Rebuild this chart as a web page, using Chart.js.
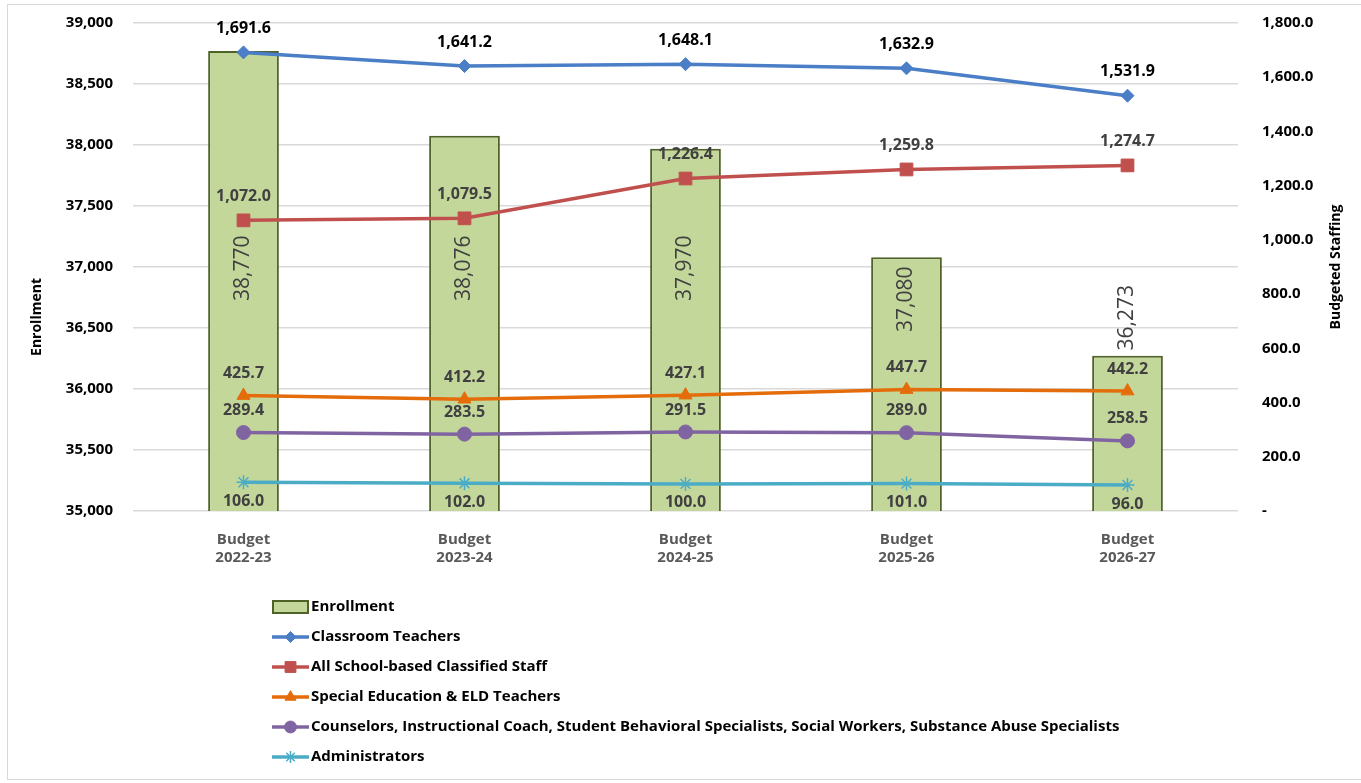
<!DOCTYPE html>
<html>
<head>
<meta charset="utf-8">
<script src="https://cdn.jsdelivr.net/npm/chart.js@4"></script>
<style>
  html, body { margin: 0; padding: 0; background: #fff; }
  #wrap { position: absolute; left: 0; top: 0; width: 1361px; height: 783px; }
  #frame { position: absolute; left: 7px; top: 4px; width: 1360px; height: 776px; border: 1px solid #d9d9d9; box-sizing: border-box; pointer-events: none; }
</style>
</head>
<body>
<div id="wrap"><canvas id="myChart" width="1361" height="783"></canvas></div>
<div id="frame"></div>
<script>
// data
const years = [['Budget', '2022-23'], ['Budget', '2023-24'], ['Budget', '2024-25'], ['Budget', '2025-26'], ['Budget', '2026-27']];
const enrollment = [38770, 38076, 37970, 37080, 36273];
const classroomTeachers = [1691.6, 1641.2, 1648.1, 1632.9, 1531.9];
const classifiedStaff = [1072.0, 1079.5, 1226.4, 1259.8, 1274.7];
const spedEldTeachers = [425.7, 412.2, 427.1, 447.7, 442.2];
const counselors = [289.4, 283.5, 291.5, 289.0, 258.5];
const administrators = [106.0, 102.0, 100.0, 101.0, 96.0];

const FONT = '"Open Sans", "Liberation Sans", sans-serif';
Chart.defaults.font.family = FONT;

function lineSet(label, data, color, style, radius, labelDy, labelColor) {
  return {
    type: 'line', label: label, data: data, yAxisID: 'y1', order: 0,
    borderColor: color, backgroundColor: color, borderWidth: 3.5,
    pointStyle: style, pointRadius: radius, pointBorderWidth: style === 'star' ? 1.5 : 1,
    pointBackgroundColor: color, pointBorderColor: color,
    tension: 0, labelDy: labelDy, labelColor: labelColor
  };
}

const fmt1 = v => v.toLocaleString('en-US', { minimumFractionDigits: 1, maximumFractionDigits: 1 });

const labelsPlugin = {
  id: 'labels',
  afterDatasetsDraw(chart) {
    const ctx = chart.ctx;
    const y = chart.scales.y;
    ctx.save();
    chart.data.datasets.forEach((ds, i) => {
      const meta = chart.getDatasetMeta(i);
      meta.data.forEach((el, j) => {
        const v = ds.data[j];
        if (ds.type === 'bar') {
          const top = el.y;
          let cy;
          if (top > y.getPixelForValue(36500)) cy = top - 38;
          else cy = Math.max(y.getPixelForValue(36990), top + 42);
          ctx.save();
          ctx.translate(el.x, cy);
          ctx.rotate(-Math.PI / 2);
          ctx.font = '21px ' + FONT;
          ctx.fillStyle = '#404040';
          ctx.textAlign = 'center';
          ctx.textBaseline = 'middle';
          ctx.fillText(v.toLocaleString('en-US'), 0, 0);
          ctx.restore();
        } else {
          ctx.font = 'bold 16px ' + FONT;
          ctx.fillStyle = ds.labelColor;
          ctx.textAlign = 'center';
          ctx.textBaseline = 'middle';
          ctx.fillText(fmt1(v), el.x, el.y + ds.labelDy);
        }
      });
    });
    ctx.restore();
  },
  afterDraw(chart) {
    const ctx = chart.ctx;
    ctx.save();
    // axis titles, both read bottom to top
    ctx.font = 'bold 14px ' + FONT;
    ctx.fillStyle = '#000';
    ctx.textAlign = 'center';
    ctx.textBaseline = 'middle';
    ctx.save(); ctx.translate(37, 317); ctx.rotate(-Math.PI / 2); ctx.fillText('Enrollment', 0, 0); ctx.restore();
    ctx.save(); ctx.translate(1336, 267); ctx.rotate(-Math.PI / 2); ctx.fillText('Budgeted Staffing', 0, 0); ctx.restore();

    // vertical legend under the plot
    const lx = 272, tx = 311;
    let ly = 607;
    chart.data.datasets.forEach(ds => {
      if (ds.type === 'bar') {
        ctx.fillStyle = ds.backgroundColor;
        ctx.strokeStyle = ds.borderColor;
        ctx.lineWidth = 2;
        ctx.fillRect(lx + 1, ly - 6, 35, 12);
        ctx.strokeRect(lx + 1, ly - 6, 35, 12);
      } else {
        ctx.strokeStyle = ds.borderColor;
        ctx.lineWidth = 3.5;
        ctx.beginPath(); ctx.moveTo(lx, ly); ctx.lineTo(lx + 37, ly); ctx.stroke();
        ctx.fillStyle = ds.backgroundColor;
        ctx.lineWidth = ds.pointBorderWidth;
        Chart.helpers.drawPoint(ctx, { pointStyle: ds.pointStyle, radius: ds.pointRadius * 0.85, borderWidth: ds.pointBorderWidth }, lx + 18.5, ly);
      }
      ctx.font = 'bold 15px ' + FONT;
      ctx.fillStyle = '#000';
      ctx.textAlign = 'left';
      ctx.textBaseline = 'middle';
      ctx.fillText(ds.label, tx, ly);
      ly += 30;
    });
    ctx.restore();
  }
};

const ctx = document.getElementById('myChart');

new Chart(ctx, {
  data: {
    labels: years,
    datasets: [
      {
        type: 'bar', label: 'Enrollment', data: enrollment, yAxisID: 'y', order: 1,
        backgroundColor: '#C4D79B', borderColor: '#4F6228', borderWidth: 2,
        barPercentage: 0.32, categoryPercentage: 1
      },
      lineSet('Classroom Teachers', classroomTeachers, '#4A7EC6', 'rectRot', 6.5, -24, '#000'),
      lineSet('All School-based Classified Staff', classifiedStaff, '#C0504D', 'rect', 9, -24, '#404040'),
      lineSet('Special Education & ELD Teachers', spedEldTeachers, '#E46C0A', 'triangle', 7.5, -22, '#404040'),
      lineSet('Counselors, Instructional Coach, Student Behavioral Specialists, Social Workers, Substance Abuse Specialists', counselors, '#8064A2', 'circle', 7, -22, '#404040'),
      lineSet('Administrators', administrators, '#4BACC6', 'star', 7, 19, '#404040')
    ]
  },
  options: {
    responsive: false,
    animation: false,
    devicePixelRatio: 1,
    layout: { padding: { top: 23, left: 0, right: 0, bottom: 0 } },
    plugins: { legend: { display: false }, tooltip: { enabled: false } },
    scales: {
      x: {
        grid: { display: false },
        border: { display: false },
        ticks: { color: '#595959', font: { size: 15, weight: 'bold' }, padding: 12, maxRotation: 0 },
        afterFit: s => { s.height = 272; s.paddingLeft = 0; s.paddingRight = 0; }
      },
      y: {
        position: 'left', min: 35000, max: 39000,
        ticks: { stepSize: 500, color: '#000', font: { size: 15, weight: 'bold' }, padding: 20,
          callback: v => v.toLocaleString('en-US') },
        grid: { color: '#d9d9d9', lineWidth: 1.5, drawTicks: false },
        border: { display: false },
        afterFit: s => { s.width = 133; s.paddingTop = 0; s.paddingBottom = 0; }
      },
      y1: {
        position: 'right', min: 0, max: 1800,
        ticks: { stepSize: 200, color: '#000', font: { size: 15, weight: 'bold' }, padding: 24,
          callback: v => v === 0 ? '-' : fmt1(v) },
        grid: { display: false, drawTicks: false },
        border: { display: false },
        afterFit: s => { s.width = 123; s.paddingTop = 0; s.paddingBottom = 0; }
      }
    }
  },
  plugins: [labelsPlugin]
});
</script>
</body>
</html>
